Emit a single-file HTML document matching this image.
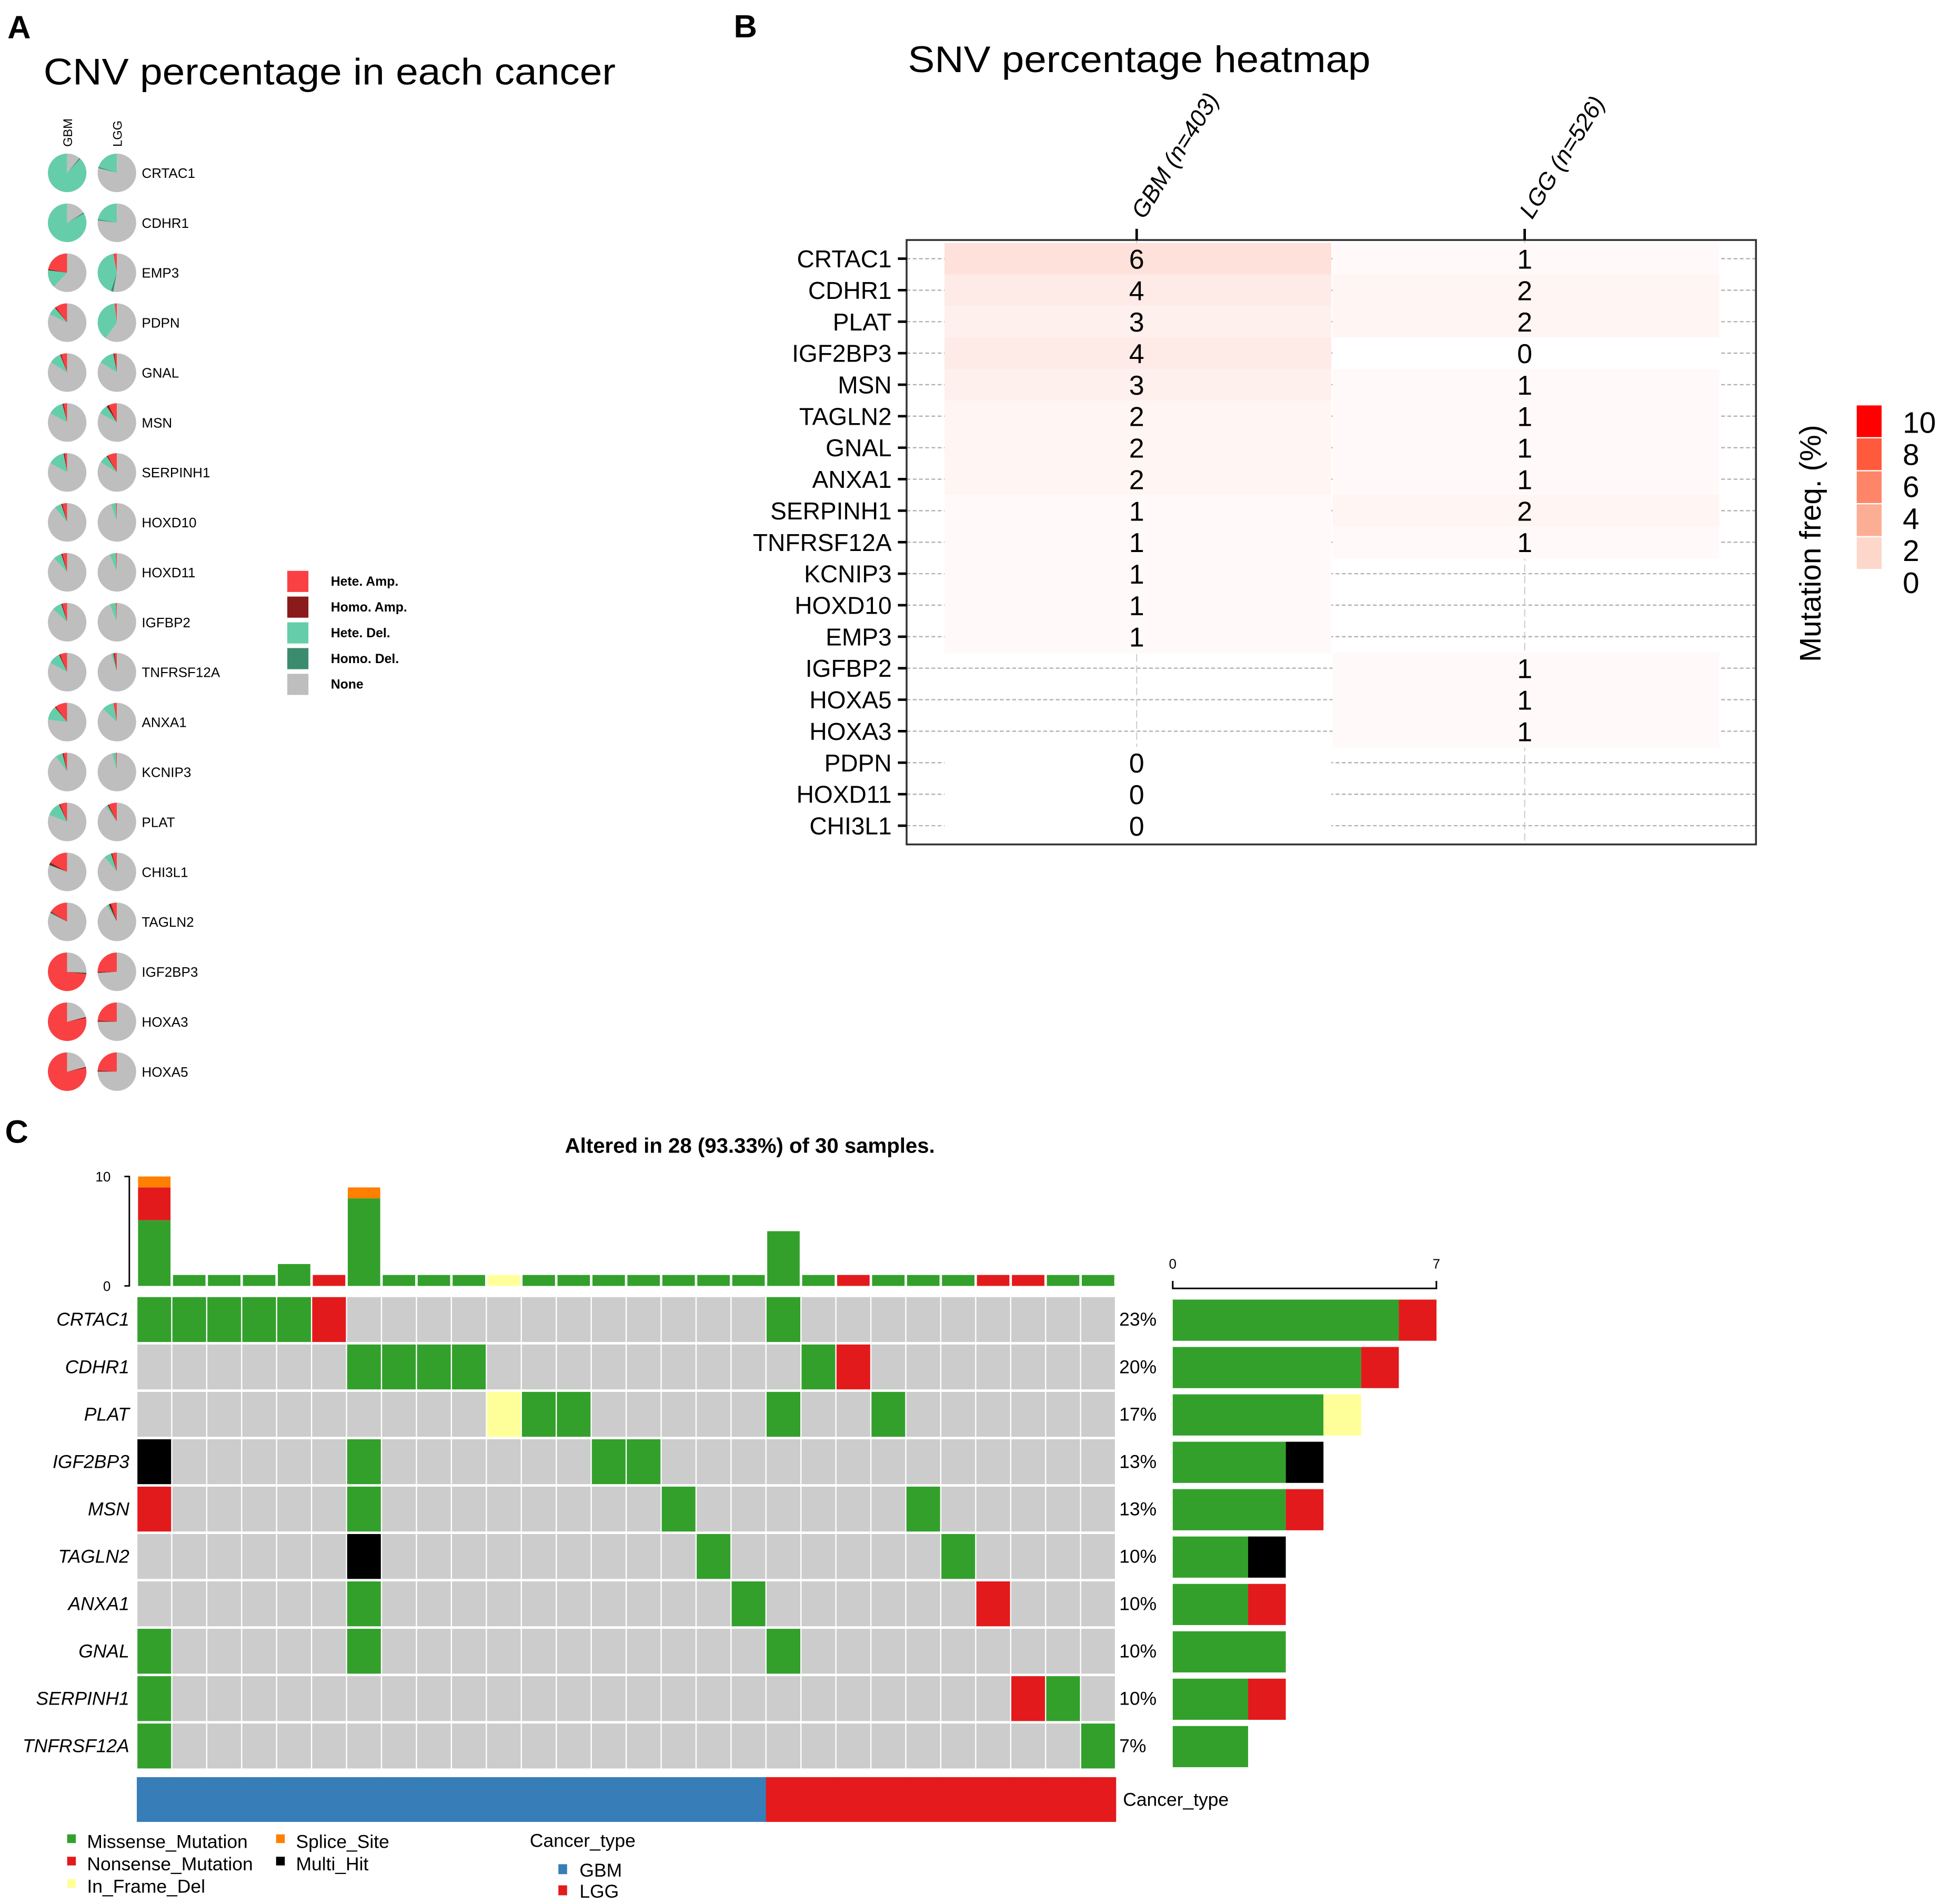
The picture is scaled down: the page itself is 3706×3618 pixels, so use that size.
<!DOCTYPE html>
<html><head><meta charset="utf-8">
<style>
html,body{margin:0;padding:0;background:#fff;}
svg{display:block;font-family:"Liberation Sans",Arial,sans-serif;}
</style></head>
<body>
<svg id="fig" xmlns="http://www.w3.org/2000/svg" width="3706" height="3618" viewBox="0 0 1568 1531" preserveAspectRatio="none">
<rect x="0" y="0" width="1568" height="1531" fill="#fff"/>
<text x="6" y="31" font-size="26" font-weight="bold">A</text>
<text x="590" y="30" font-size="26" font-weight="bold">B</text>
<text x="4" y="919" font-size="26" font-weight="bold">C</text>
<text x="35" y="68" font-size="30" textLength="460" lengthAdjust="spacingAndGlyphs">CNV percentage in each cancer</text>
<text x="730" y="58" font-size="30" textLength="372" lengthAdjust="spacingAndGlyphs">SNV percentage heatmap</text>
<text x="603" y="927" font-size="17" font-weight="bold" text-anchor="middle">Altered in 28 (93.33%) of 30 samples.</text>
<g id="gA"></g>
<g id="gB"></g>
<g id="gC"></g>
</svg>
<script>
// ---------- Panel A data ----------
const cnvGenes = ["CRTAC1","CDHR1","EMP3","PDPN","GNAL","MSN","SERPINH1","HOXD10","HOXD11","IGFBP2","TNFRSF12A","ANXA1","KCNIP3","PLAT","CHI3L1","TAGLN2","IGF2BP3","HOXA3","HOXA5"];
// fractions: [heteAmp, homoAmp, heteDel, homoDel]
const cnvGBM = [[0,0,0.88,0.01],[0,0,0.83,0.01],[0.22,0.01,0.15,0],[0.1,0.01,0.07,0],[0.05,0.01,0.1,0],[0.03,0.01,0.13,0],[0.02,0.01,0.14,0],[0.04,0.01,0.06,0],[0.04,0.01,0.07,0],[0.04,0.01,0.08,0],[0.06,0.01,0.1,0],[0.1,0.01,0.12,0],[0.03,0.01,0.06,0],[0.06,0.01,0.12,0],[0.17,0.02,0.01,0],[0.16,0.01,0.01,0],[0.73,0.01,0.01,0],[0.78,0.01,0,0],[0.78,0.01,0,0]];
const cnvLGG = [[0,0,0.2,0.01],[0,0,0.22,0.01],[0.03,0,0.42,0.02],[0.02,0,0.38,0],[0.02,0.01,0.13,0],[0.07,0.02,0.08,0],[0.08,0.01,0.07,0],[0.01,0,0.04,0],[0.01,0,0.05,0],[0.01,0,0.05,0],[0.02,0.01,0.02,0],[0.03,0,0.1,0],[0.01,0,0.03,0],[0.07,0.01,0.02,0],[0.04,0.01,0.06,0],[0.05,0.02,0.02,0],[0.25,0.01,0,0],[0.24,0.01,0,0],[0.24,0.01,0,0]];
const cnvCats = ["Hete. Amp.","Homo. Amp.","Hete. Del.","Homo. Del.","None"];
// ---------- Panel B data ----------
const snvGenes = ["CRTAC1","CDHR1","PLAT","IGF2BP3","MSN","TAGLN2","GNAL","ANXA1","SERPINH1","TNFRSF12A","KCNIP3","HOXD10","EMP3","IGFBP2","HOXA5","HOXA3","PDPN","HOXD11","CHI3L1"];
const snvGBM = [6,4,3,4,3,2,2,2,1,1,1,1,1,null,null,null,0,0,0];
const snvLGG = [1,2,2,0,1,1,1,1,2,1,null,null,null,1,1,1,null,null,null];
const snvCols = ["GBM (n=403)","LGG (n=526)"];
const snvLegendTicks = ["10","8","6","4","2","0"];
// ---------- Panel C data ----------
const oncoGenes = ["CRTAC1","CDHR1","PLAT","IGF2BP3","MSN","TAGLN2","ANXA1","GNAL","SERPINH1","TNFRSF12A"];
const oncoPct = ["23%","20%","17%","13%","13%","10%","10%","10%","10%","7%"];
const oncoCells = [
 {0:"M",1:"M",2:"M",3:"M",4:"M",5:"N",18:"M"},
 {6:"M",7:"M",8:"M",9:"M",19:"M",20:"N"},
 {10:"I",11:"M",12:"M",18:"M",21:"M"},
 {0:"H",6:"M",13:"M",14:"M"},
 {0:"N",6:"M",15:"M",22:"M"},
 {6:"H",16:"M",23:"M"},
 {6:"M",17:"M",24:"N"},
 {0:"M",6:"M",18:"M"},
 {0:"M",25:"N",26:"M"},
 {0:"M",27:"M"}
];
const topMissense = [6,1,1,1,2,0,8,1,1,1,0,1,1,1,1,1,1,1,5,1,0,1,1,1,0,0,1,1];
const topNonsense = [3,0,0,0,0,1,0,0,0,0,0,0,0,0,0,0,0,0,0,0,1,0,0,0,1,1,0,0];
const topSplice   = [1,0,0,0,0,0,1,0,0,0,0,0,0,0,0,0,0,0,0,0,0,0,0,0,0,0,0,0];
const topInframe  = [0,0,0,0,0,0,0,0,0,0,1,0,0,0,0,0,0,0,0,0,0,0,0,0,0,0,0,0];
const rightMissense = [6,5,4,3,3,2,2,3,2,2];
const rightNonsense = [1,1,0,0,1,0,1,0,1,0];
const rightInframe  = [0,0,1,0,0,0,0,0,0,0];
const rightMulti    = [0,0,0,1,0,1,0,0,0,0];
const cancerType = ["GBM","GBM","GBM","GBM","GBM","GBM","GBM","GBM","GBM","GBM","GBM","GBM","GBM","GBM","GBM","GBM","GBM","GBM","LGG","LGG","LGG","LGG","LGG","LGG","LGG","LGG","LGG","LGG"];

const NS="http://www.w3.org/2000/svg";
function mk(tag, attrs, parent, text){
  const e=document.createElementNS(NS,tag);
  for(const k in attrs) e.setAttribute(k,attrs[k]);
  if(text!==undefined) e.textContent=text;
  parent.appendChild(e); return e;
}
// ======== Panel A ========
const gA=document.getElementById('gA');
const cnvColors=["#f94144","#8b1a1a","#66cdaa","#3b8b6e","#bebebe"];
const pieX=[54,94], pieY0=139, pieDY=40.15, pieR=15.5;
function pieY(i){return pieY0+i*pieDY;}
function drawPie(cx,cy,fr,parent,name){
  const g=mk('g',{},parent);
  
  
  const parts=fr.slice(); parts.push(Math.max(0,1-fr.reduce((a,b)=>a+b,0)));
  let a=0;
  parts.forEach((f,k)=>{
    if(f<=0) return;
    const a0=-Math.PI/2 - a*2*Math.PI, a1=-Math.PI/2-(a+f)*2*Math.PI;
    a+=f;
    let el;
    if(f>=0.9999){ el=mk('circle',{cx:cx,cy:cy,r:pieR,fill:cnvColors[k]},g); }
    else{
      const x0=cx+pieR*Math.cos(a0), y0=cy+pieR*Math.sin(a0), x1=cx+pieR*Math.cos(a1), y1=cy+pieR*Math.sin(a1);
      const large=f>0.5?1:0;
      el=mk('path',{d:`M${cx},${cy} L${x0},${y0} A${pieR},${pieR} 0 ${large} 0 ${x1},${y1} Z`,fill:cnvColors[k]},g);
    }
    
    
  });
}
let t=mk('text',{x:0,y:0,'font-size':10,transform:`translate(${pieX[0]+4},118) rotate(-90)`},gA,"GBM");


t=mk('text',{x:0,y:0,'font-size':10,transform:`translate(${pieX[1]+4},118) rotate(-90)`},gA,"LGG");


cnvGenes.forEach((g,i)=>{
  drawPie(pieX[0],pieY(i),cnvGBM[i],gA,'pie-gbm-'+g.toLowerCase());
  drawPie(pieX[1],pieY(i),cnvLGG[i],gA,'pie-lgg-'+g.toLowerCase());
  const tx=mk('text',{x:114,y:pieY(i)+4,'font-size':11},gA,g);
  
  
});
cnvCats.forEach((c,k)=>{
  const y=459+k*20.7;
  const r=mk('rect',{x:231,y:y,width:17,height:17,fill:cnvColors[k]},gA);
  
  
  const tx=mk('text',{x:266,y:y+12,'font-size':10.5,'font-weight':'bold'},gA,c);
  
  
});
// ======== Panel B ========
const gB=document.getElementById('gB');
const bx0=729,bx1=1412,by0=193,by1=679,rowY0=208,rowDY=25.33;
const colX=[914,1226], colW=311;
function yRow(i){return rowY0+i*rowDY;}
function heatColor(v){const a=Math.min(1,v*0.035); return `rgb(${Math.round(255-5*a)},${Math.round(255-145*a)},${Math.round(255-175*a)})`;}
snvGenes.forEach((g,i)=>{
  const l=mk('line',{x1:bx0,x2:bx1,y1:yRow(i),y2:yRow(i),stroke:'#b0b0b0','stroke-width':1,'stroke-dasharray':'3,2'},gB);
  
  
});
colX.forEach(x=>{
  const l=mk('line',{x1:x,x2:x,y1:by0,y2:by1,stroke:'#c8c8c8','stroke-width':0.8,'stroke-dasharray':'6,3'},gB);
  
  
});
[snvGBM,snvLGG].forEach((arr,c)=>{
  arr.forEach((v,i)=>{
    if(v===null) return;
    const r=mk('rect',{x:colX[c]-colW/2+1,y:yRow(i)-rowDY/2,width:colW,height:rowDY+0.5,fill:heatColor(v)},gB);
    
    
  });
});
[snvGBM,snvLGG].forEach((arr,c)=>{
  arr.forEach((v,i)=>{
    if(v===null) return;
    const tx=mk('text',{x:colX[c],y:yRow(i)+8,'font-size':22,'text-anchor':'middle'},gB,String(v));
    
    
  });
});
let fr=mk('rect',{x:bx0,y:by0,width:bx1-bx0,height:by1-by0,fill:'none',stroke:'#333','stroke-width':1.5},gB);


snvGenes.forEach((g,i)=>{
  const l=mk('line',{x1:722,x2:729,y1:yRow(i),y2:yRow(i),stroke:'#000','stroke-width':2},gB);
  
  
  const tx=mk('text',{x:717,y:yRow(i)+7,'font-size':19.5,'text-anchor':'end'},gB,g);
  
  
});
snvCols.forEach((c,k)=>{
  const l=mk('line',{x1:colX[k],x2:colX[k],y1:184,y2:193,stroke:'#000','stroke-width':2},gB);
  
  
  const tx=mk('text',{x:0,y:0,'font-size':19,'font-style':'italic',transform:`translate(${colX[k]+6},177) rotate(-58)`},gB,c);
  
  
});
const legCols=["#ff0000","#ff5a3c","#ff8569","#fcae95","#fdd8ca"];
legCols.forEach((c,k)=>{
  const r=mk('rect',{x:1493,y:326+k*26.5,width:20,height:25.5,fill:c},gB);
  
  
});
snvLegendTicks.forEach((s,k)=>{
  const tx=mk('text',{x:1530,y:348+k*25.8,'font-size':24},gB,s);
  
  
});
t=mk('text',{x:0,y:0,'font-size':24,'text-anchor':'middle',transform:'translate(1464,437) rotate(-90)'},gB,"Mutation freq. (%)");


// ======== Panel C ========
const gC=document.getElementById('gC');
const cx0=110, cw=(897-110)/28, gy0=1042, gh=38.1;
const typeCol={M:"#33a02c",N:"#e31a1c",I:"#ffff99",H:"#000000",S:"#ff7f00"};
function xCol(j){return cx0+j*cw;}
function yTop(v){return 1034-v*8.8;}
for(let j=0;j<28;j++){
  let base=0;
  [[topMissense,"M"],[topNonsense,"N"],[topInframe,"I"],[topSplice,"S"]].forEach(([arr,ty])=>{
    const v=arr[j]; if(!v) return;
    const r=mk('rect',{x:xCol(j)+1,y:yTop(base+v),width:cw-2,height:yTop(base)-yTop(base+v),fill:typeCol[ty]},gC);
    
    
    base+=v;
  });
}
let ax=mk('path',{d:'M100,946 L104,946 L104,1034 L100,1034',fill:'none',stroke:'#000','stroke-width':1.2},gC);


t=mk('text',{x:89,y:950,'font-size':11,'text-anchor':'end'},gC,"10");  
t=mk('text',{x:89,y:1038,'font-size':11,'text-anchor':'end'},gC,"0");  
oncoGenes.forEach((g,i)=>{
  const y=gy0+i*gh;
  for(let j=0;j<28;j++){
    const ty=oncoCells[i][j];
    const r=mk('rect',{x:xCol(j)+0.5,y:y+1,width:cw-1,height:gh-2,fill:ty?typeCol[ty]:'#cccccc'},gC);
    
    
  }
  const tx=mk('text',{x:104,y:y+gh/2+5,'font-size':15,'font-style':'italic','text-anchor':'end'},gC,g);
  
  
  const pt=mk('text',{x:900,y:y+gh/2+5,'font-size':15},gC,oncoPct[i]);
  
  
  let base=0;
  [[rightMissense,"M"],[rightNonsense,"N"],[rightInframe,"I"],[rightMulti,"H"]].forEach(([arr,ty])=>{
    const v=arr[i]; if(!v) return;
    const r=mk('rect',{x:943+base*30.3,y:y+3,width:v*30.3,height:gh-5,fill:typeCol[ty]},gC);
    
    
    base+=v;
  });
});
ax=mk('path',{d:'M943,1030 L943,1036 L1155,1036 L1155,1030',fill:'none',stroke:'#000','stroke-width':1.3},gC);


t=mk('text',{x:943,y:1020,'font-size':11,'text-anchor':'middle'},gC,"0");  
t=mk('text',{x:1155,y:1020,'font-size':11,'text-anchor':'middle'},gC,"7");  
cancerType.forEach((c,j)=>{
  const r=mk('rect',{x:xCol(j),y:1429,width:cw+0.5,height:36,fill:c==="GBM"?"#377eb8":"#e41a1c"},gC);
  
  
});
t=mk('text',{x:903,y:1452,'font-size':15},gC,"Cancer_type");  
const legItems=[["Missense_Mutation","M",54,1481],["Nonsense_Mutation","N",54,1499],["In_Frame_Del","I",54,1517],["Splice_Site","S",222,1481],["Multi_Hit","H",222,1499]];
legItems.forEach(([lab,ty,x,y])=>{
  const r=mk('rect',{x:x,y:y-6,width:7,height:7,fill:typeCol[ty]},gC);
  
  
  const tx=mk('text',{x:x+16,y:y+5,'font-size':15},gC,lab);
  
  
});
t=mk('text',{x:426,y:1485,'font-size':15},gC,"Cancer_type");  
[["GBM","#377eb8",1504],["LGG","#e41a1c",1521]].forEach(([lab,c,y])=>{
  const r=mk('rect',{x:449,y:y-5,width:7,height:8,fill:c},gC);
  
  
  const tx=mk('text',{x:466,y:y+5,'font-size':15},gC,lab);
  
  
});
</script>
</body></html>
